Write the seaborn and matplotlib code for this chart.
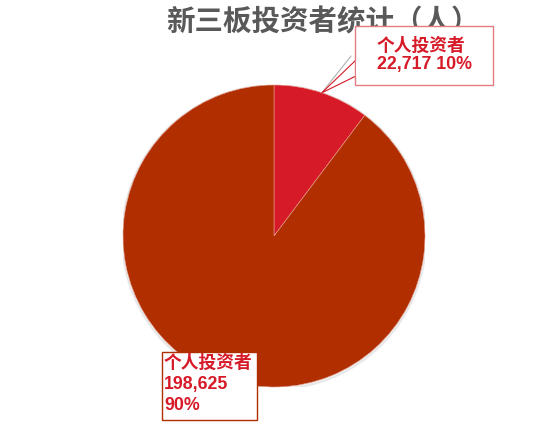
import numpy as np
import matplotlib
matplotlib.use("Agg")
import matplotlib.pyplot as plt
import seaborn as sns
from matplotlib.patches import Rectangle, Polygon, Circle
from matplotlib.lines import Line2D

# data
categories = ["个人投资者", "个人投资者"]
values = [22717, 198625]
colors = ["#d71a28", "#b02e00"]
title = "新三板投资者统计（人）"

sns.set_theme(style="white")
plt.rcParams["font.family"] = ["Noto Sans CJK SC", "DejaVu Sans"]

W, H = 547, 425
fig = plt.figure(figsize=(W / 100, H / 100), dpi=100)
fig.patch.set_facecolor("white")


def px(x, y):
    # pixel coords measured from top-left -> figure fraction
    return x / W, 1 - y / H


# pie axes: centre (274, 236), radius 151 px
cx, cy, r = 274, 236, 151
ax = fig.add_axes([(cx - r) / W, (H - cy - r) / H, 2 * r / W, 2 * r / H])
ax.set_xlim(-1, 1)
ax.set_ylim(-1, 1)
ax.set_aspect("equal")
ax.axis("off")

# faint shadow
ax.add_patch(Circle((0.0, -0.008), 1.01, color="#d8d8d8", alpha=0.45, zorder=0))

wedges, _ = ax.pie(values, colors=colors, startangle=90, counterclock=False,
                   radius=1, wedgeprops=dict(edgecolor="#e8a090", linewidth=0.4))
for w in wedges:
    w.set_zorder(1)
ax.set_xlim(-1, 1)
ax.set_ylim(-1, 1)

total = sum(values)
pcts = [round(v / total * 100) for v in values]

fig.text(*px(323, 22), title, ha="center", va="center", fontsize=20.5,
         fontweight="bold", color="#595959")

# callout for the small slice
w0 = wedges[0]
mid = np.deg2rad((w0.theta1 + w0.theta2) / 2)
tip = ax.transData.transform((np.cos(mid), np.sin(mid)))
tip_fig = fig.transFigure.inverted().transform(tip)

red = "#d71a28"
fig.add_artist(Line2D([tip_fig[0], px(351, 56)[0]], [tip_fig[1], px(351, 56)[1]],
                      color="#b0b0b0", lw=0.8, transform=fig.transFigure, zorder=3))
fig.add_artist(Polygon([tip_fig, px(356, 60), px(356, 76)], closed=True,
                       facecolor="white", edgecolor=red, lw=0.8,
                       transform=fig.transFigure, zorder=4))
x0, y0 = px(355, 85)
x1, y1 = px(493, 26)
fig.add_artist(Rectangle((x0, y0), x1 - x0, y1 - y0, facecolor="white",
                         edgecolor="#e57a82", lw=1.0, transform=fig.transFigure,
                         zorder=5))
fig.add_artist(Rectangle(px(355.6, 75.5), 1.5 / W, 15 / H, facecolor="white",
                         edgecolor="none", transform=fig.transFigure, zorder=6))
fig.text(*px(377, 46), categories[0], ha="left", va="center", fontsize=12.8,
         fontweight="bold", color=red, zorder=7)
fig.text(*px(377, 65), f"{values[0]:,} {pcts[0]}%", ha="left", va="center",
         fontsize=12.8, fontweight="bold", color=red, zorder=7,
         family=["Liberation Sans", "DejaVu Sans"])

# label for the big slice
x0, y0 = px(162, 420)
x1, y1 = px(257, 352)
fig.add_artist(Rectangle((x0, y0), x1 - x0, y1 - y0, facecolor="white",
                         edgecolor="#b02e00", lw=1.0, transform=fig.transFigure,
                         zorder=5))
fig.text(*px(164, 363), categories[1], ha="left", va="center", fontsize=12.8,
         fontweight="bold", color=red, zorder=7)
fig.text(*px(164, 384), f"{values[1]:,}", ha="left", va="center", fontsize=12.8,
         fontweight="bold", color=red, zorder=7,
         family=["Liberation Sans", "DejaVu Sans"])
fig.text(*px(164, 406), f"{pcts[1]}%", ha="left", va="center", fontsize=12.8,
         fontweight="bold", color=red, zorder=7,
         family=["Liberation Sans", "DejaVu Sans"])

plt.savefig("out.png", dpi=100)
plt.close()
